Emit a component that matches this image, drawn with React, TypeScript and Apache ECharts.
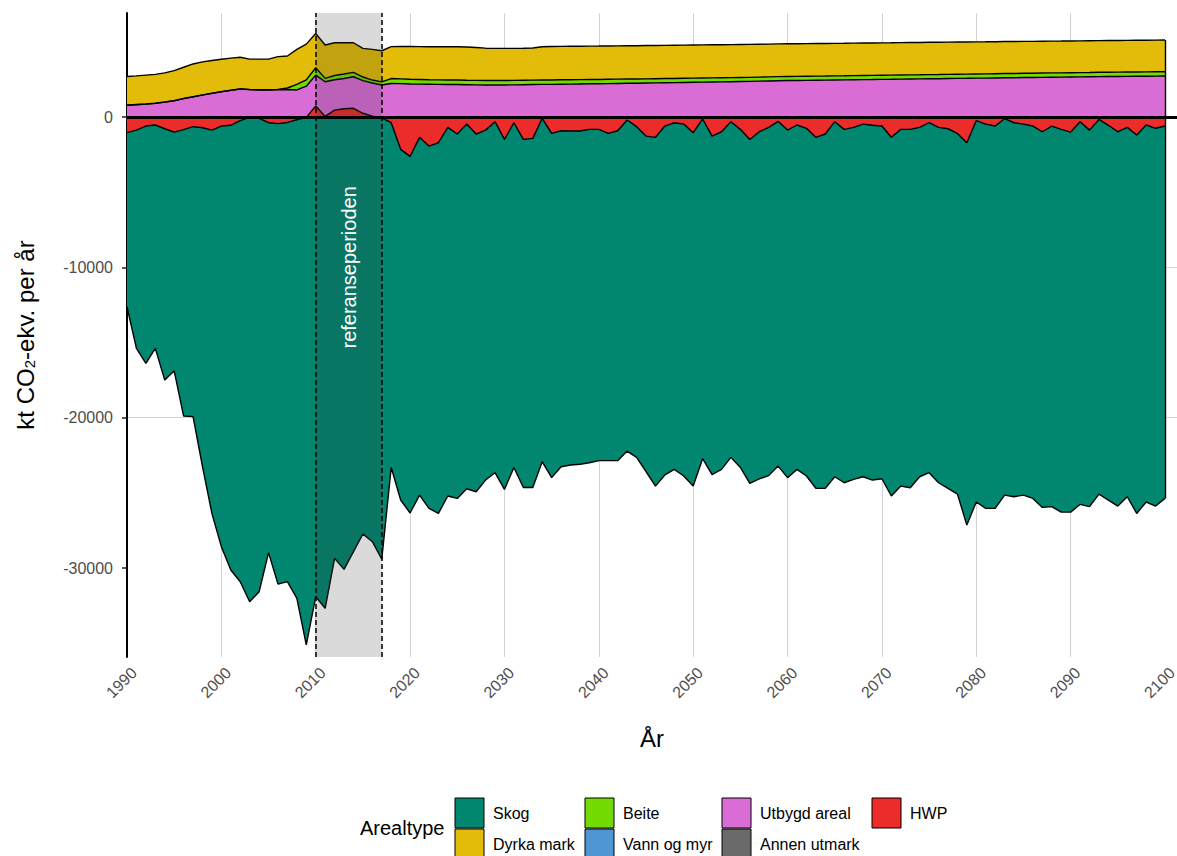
import React, { useEffect, useRef } from "react";
import * as echarts from "echarts";

// ---------- data (kt CO2-ekv. per år), years 1990..2100 ----------
const firstYear = 1990;
const years: number[] = Array.from({ length: 111 }, (_, i) => firstYear + i);

const xTicks = [1990, 2000, 2010, 2020, 2030, 2040, 2050, 2060, 2070, 2080, 2090, 2100];
const yTicks = [-30000, -20000, -10000, 0];
const referencePeriod = [2010, 2017];
const referenceLabel = "referanseperioden";

const hwp = [
  -1040, -870, -600, -530, -780, -1000, -840, -640, -710, -870,
  -600, -550, -240, -20, -90, -380, -440, -360, -180, -20,
  730, 40, 460, 550, 580, 250, 60, -60, -380, -2150,
  -2620, -1350, -1930, -1710, -690, -1130, -470, -1130, -870, -310,
  -1490, -380, -1490, -1420, -90, -1090, -910, -930, -930, -820,
  -820, -1090, -910, -200, -640, -1270, -1350, -600, -380, -470,
  -1040, -130, -1270, -980, -310, -820, -1490, -980, -690, -290,
  -870, -530, -750, -1350, -1130, -310, -820, -690, -470, -550,
  -600, -1350, -820, -820, -690, -380, -690, -780, -1090, -1710,
  -240, -470, -600, -110, -380, -470, -600, -980, -600, -820,
  -1000, -310, -870, -160, -550, -980, -690, -1200, -530, -750,
  -600,
];

const skog = [
  -11580, -14520, -15790, -14860, -16720, -15880, -19050, -19290, -22550, -25500,
  -27980, -29580, -30670, -32220, -31490, -28600, -30630, -30550, -31840, -35100,
  -31910, -32680, -29360, -30090, -28910, -27740, -28250, -29360, -22930, -23330,
  -23720, -23800, -24100, -24660, -24520, -24240, -24260, -23800, -23280, -23350,
  -23280, -22930, -23150, -23220, -22840, -22900, -22350, -22220, -22170, -22180,
  -22040, -21770, -21950, -22020, -22000, -22320, -23200, -23210, -23060, -23410,
  -23510, -22600, -22520, -22460, -22330, -22490, -22880, -23090, -23160, -22930,
  -23120, -22910, -23130, -23350, -23570, -23620, -23510, -23410, -23460, -23600,
  -23460, -23860, -23730, -23840, -23240, -23280, -23640, -23920, -23990, -25430,
  -25370, -25560, -25430, -25040, -24880, -24680, -24770, -24990, -25320, -25460,
  -25280, -25460, -25050, -24920, -24930, -24900, -24570, -25170, -25080, -25130,
  -24770,
];

const utbygd = [
  780, 820, 860, 910, 990, 1080, 1220, 1340, 1460, 1570,
  1680, 1770, 1860, 1820, 1800, 1800, 1810, 1830, 1800, 2050,
  2060, 2310, 2020, 2010, 2100, 2170, 2200, 2130, 2230, 2220,
  2200, 2190, 2180, 2170, 2165, 2160, 2150, 2140, 2135, 2130,
  2135, 2140, 2150, 2160, 2170, 2175, 2185, 2190, 2200, 2210,
  2215, 2225, 2235, 2245, 2250, 2260, 2270, 2280, 2290, 2300,
  2310, 2320, 2330, 2340, 2350, 2360, 2370, 2385, 2400, 2415,
  2425, 2430, 2440, 2450, 2455, 2465, 2470, 2480, 2490, 2495,
  2505, 2510, 2520, 2530, 2535, 2545, 2550, 2560, 2570, 2575,
  2585, 2590, 2600, 2610, 2615, 2625, 2630, 2640, 2650, 2655,
  2665, 2670, 2680, 2690, 2695, 2700, 2705, 2710, 2715, 2720,
  2725,
];

const beite = [
  10, 10, 10, 10, 10, 10, 10, 10, 10, 10,
  10, 10, 10, 10, 10, 15, 30, 100, 370, 420,
  490, 220, 280, 300, 290, 240, 200, 210, 330, 320,
  310, 305, 300, 300, 300, 300, 295, 295, 295, 295,
  295, 295, 295, 295, 290, 290, 290, 290, 288, 286,
  285, 284, 283, 282, 281, 280, 279, 278, 277, 276,
  275, 274, 273, 272, 271, 270, 270, 270, 270, 270,
  270, 271, 271, 272, 272, 272, 273, 274, 274, 275,
  275, 276, 276, 277, 277, 278, 279, 279, 280, 280,
  280, 281, 281, 282, 283, 283, 284, 284, 285, 285,
  285, 286, 286, 287, 287, 288, 288, 289, 289, 290,
  290,
];

const dyrka = [
  1905, 1910, 1920, 1920, 1940, 2000, 2080, 2180, 2200, 2180,
  2150, 2140, 2110, 2020, 2040, 2040, 2180, 2130, 2330, 2380,
  2280, 2220, 2180, 2080, 1970, 1910, 2040, 2070, 2120, 2150,
  2180, 2190, 2195, 2200, 2205, 2210, 2215, 2190, 2150, 2140,
  2135, 2135, 2130, 2140, 2215, 2225, 2225, 2225, 2222, 2220,
  2220, 2219, 2218, 2216, 2215, 2214, 2212, 2210, 2209, 2207,
  2205, 2203, 2200, 2198, 2196, 2194, 2190, 2186, 2182, 2178,
  2175, 2173, 2171, 2168, 2166, 2163, 2161, 2159, 2157, 2156,
  2155, 2153, 2152, 2150, 2149, 2147, 2145, 2142, 2140, 2138,
  2135, 2133, 2130, 2128, 2125, 2122, 2120, 2118, 2115, 2113,
  2110, 2109, 2108, 2107, 2106, 2105, 2105, 2105, 2105, 2105,
  2105,
];

// legend order (as in the original figure) and colours
const legendNames = ["Skog", "Dyrka mark", "Beite", "Vann og myr", "Utbygd areal", "Annen utmark", "HWP"];
const legendColors = ["#01866F", "#E2BC08", "#74DB02", "#4E97D3", "#D96CD5", "#6A6A6A", "#EC2B2B"];
const legendTitle = "Arealtype";

const FONT = "'Liberation Sans', Arial, Helvetica, sans-serif";

const colorOf = (name: string) => legendColors[legendNames.indexOf(name)];

export default function App() {
  const ref = useRef<HTMLDivElement>(null);

  useEffect(() => {
    if (!ref.current) return;
    const chart = echarts.init(ref.current, null, { renderer: "svg" });

    // Stacked boundaries (positive values stack upwards from 0, negative downwards),
    // computed from the component arrays; each area is filled from 0 to its boundary and
    // drawn from the outermost layer inwards.
    const n = years.length;
    const hwpPos = hwp.map((v) => Math.max(v, 0));
    const hwpNeg = hwp.map((v) => Math.min(v, 0));
    const topUtbygd = utbygd.map((v, i) => hwpPos[i] + v);
    const topBeite = beite.map((v, i) => topUtbygd[i] + v);
    const topDyrka = dyrka.map((v, i) => topBeite[i] + v);
    const botSkog = skog.map((v, i) => hwpNeg[i] + v);

    const layers = [
      { name: "Skog", bound: botSkog },
      { name: "Dyrka mark", bound: topDyrka },
      { name: "Beite", bound: topBeite },
      { name: "Utbygd areal", bound: topUtbygd },
      { name: "HWP", bound: hwp },
    ];

    const last = n - 1;
    const lastYear = years[last];

    const series: any[] = layers.map((d) => {
      const s: any = {
        name: d.name,
        type: "line",
        symbol: "none",
        silent: true,
        emphasis: { disabled: true },
        color: colorOf(d.name),
        lineStyle: { color: "#000000", width: 1.4 },
        areaStyle: { color: colorOf(d.name), opacity: 1, origin: 0 },
        data: years.map((y, i) => [y, d.bound[i]]),
      };
      if (d.name === "HWP") {
        s.markArea = {
          silent: true,
          z: 20,
          itemStyle: { color: "rgba(51,51,51,0.18)" },
          label: { show: false },
          data: [[{ xAxis: referencePeriod[0] }, { xAxis: referencePeriod[1] }]],
        };
        s.markLine = {
          silent: true,
          z: 21,
          symbol: "none",
          label: { show: false },
          data: [
            { xAxis: referencePeriod[0], lineStyle: { color: "#000", width: 1.5, type: [5, 3] } },
            { xAxis: referencePeriod[1], lineStyle: { color: "#000", width: 1.5, type: [5, 3] } },
            { yAxis: 0, lineStyle: { color: "#000", width: 3, type: "solid" } },
            [
              { coord: [lastYear, botSkog[last]], lineStyle: { color: "#000", width: 1.4, type: "solid" } },
              { coord: [lastYear, topDyrka[last]] },
            ],
          ],
        };
        s.markPoint = {
          silent: true,
          z: 22,
          symbol: "circle",
          symbolSize: 1,
          itemStyle: { color: "rgba(0,0,0,0)" },
          label: {
            show: true,
            position: "inside",
            rotate: 90,
            color: "#ffffff",
            fontSize: 20,
            fontFamily: FONT,
            formatter: referenceLabel,
          },
          data: [{ coord: [(referencePeriod[0] + referencePeriod[1]) / 2, -10000] }],
        };
      }
      return s;
    });

    // legend drawn as graphic (two rows, column-major as in the original)
    const colX = [455, 585, 722, 872];
    const rowY = [798, 829];
    const legendEls: any[] = [
      {
        type: "text",
        left: 360,
        top: 818,
        style: { text: legendTitle, fontSize: 20, fontFamily: FONT, fill: "#000" },
      },
    ];
    legendNames.forEach((name, i) => {
      const col = Math.floor(i / 2);
      const row = i % 2;
      legendEls.push({
        type: "rect",
        shape: { x: colX[col], y: rowY[row], width: 29, height: 30 },
        style: { fill: legendColors[i], stroke: "#000", lineWidth: 1 },
      });
      legendEls.push({
        type: "text",
        x: colX[col] + 38,
        y: rowY[row] + 15,
        style: {
          text: name,
          fontSize: 16,
          fontFamily: FONT,
          fill: "#000",
          verticalAlign: "middle",
          align: "left",
        },
      });
    });

    const option: any = {
      animation: false,
      backgroundColor: "#ffffff",
      grid: { left: 127, top: 13, width: 1050, height: 644, containLabel: false, outerBoundsMode: "none" },
      xAxis: {
        type: "value",
        min: 1990,
        max: 2101.27,
        interval: 10,
        name: "År",
        nameLocation: "middle",
        nameGap: 69,
        nameTextStyle: { fontSize: 24, color: "#000", fontFamily: FONT },
        axisLine: { show: false },
        axisTick: { show: true, length: 5, customValues: xTicks, lineStyle: { color: "#222", width: 1.5 } },
        axisLabel: {
          customValues: xTicks,
          formatter: (v: number) => String(v),
          rotate: 45,
          align: "right",
          verticalAlign: "top",
          padding: [2, 0, 0, 0],
          margin: 6,
          fontSize: 16,
          color: "#4D4D4D",
          fontFamily: FONT,
        },
        splitLine: { show: true, showMaxLine: false, lineStyle: { color: "#D4D4D4", width: 1.1 } },
      },
      yAxis: {
        type: "value",
        min: -35920,
        max: 6920,
        name: "kt CO{sub|2}-ekv. per år",
        nameLocation: "middle",
        nameRotate: 90,
        nameGap: 90,
        nameTextStyle: {
          fontSize: 24,
          color: "#000",
          fontFamily: FONT,
          rich: { sub: { fontSize: 15, fontFamily: FONT, color: "#000", verticalAlign: "bottom", padding: [8, 0, 0, 0] } },
        },
        axisLine: { show: true, onZero: false, lineStyle: { color: "#000", width: 2 } },
        axisTick: { show: true, length: 5, customValues: yTicks, lineStyle: { color: "#222", width: 1.5 } },
        axisLabel: {
          customValues: yTicks,
          formatter: (v: number) => String(v),
          margin: 14,
          fontSize: 16,
          color: "#4D4D4D",
          fontFamily: FONT,
        },
        splitLine: { show: true, showMinLine: false, showMaxLine: false, lineStyle: { color: "#D4D4D4", width: 1.1 } },
      },
      series,
      graphic: legendEls,
    };

    chart.setOption(option);
    return () => chart.dispose();
  }, []);

  return (
    <div
      ref={ref}
      style={{ position: "fixed", left: 0, top: 0, width: 1177, height: 856, background: "#ffffff" }}
    />
  );
}
